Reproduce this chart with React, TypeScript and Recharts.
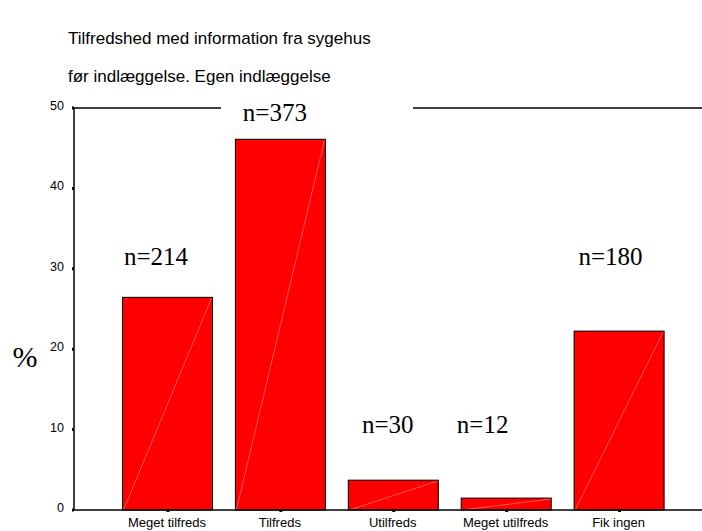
import React from 'react';
import { BarChart, Bar, XAxis, YAxis, ReferenceLine, ReferenceDot } from 'recharts';

const categories = ['Meget tilfreds', 'Tilfreds', 'Utilfreds', 'Meget utilfreds', 'Fik ingen'];
const counts = [214, 373, 30, 12, 180];
const percents = [26.45, 46.11, 3.71, 1.48, 22.25];
const labelLevels = [30.5, 48.4, 9.6, 9.6, 30.5];
const yTicks = [0, 10, 20, 30, 40, 50];
const titleLines = ['Tilfredshed med information fra sygehus', 'før indlæggelse. Egen indlæggelse'];

const labelNudge = [-12, -6, -6, -24, -9];

const data = categories.map((c, i) => ({ category: c, pct: percents[i], n: counts[i] }));

const SANS = '"Liberation Sans", Arial, Helvetica, sans-serif';
const SERIF = '"Liberation Serif", "Times New Roman", Times, serif';

const BarShape = (props: any) => {
  const { x, y, width, height } = props;
  if (!height || height <= 0) return null;
  return (
    <g>
      <rect x={x} y={y} width={width} height={height} fill="#ff0000" stroke="#000" strokeWidth={1} />
      <line x1={x + 1} y1={y + height} x2={x + width - 1} y2={y + 1} stroke="#ff7a7a" strokeWidth={0.7} />
    </g>
  );
};

const TopFrame = (props: any) => {
  const { x1, y1, x2 } = props;
  if (x1 === undefined) return null;
  return (
    <g>
      <line x1={x1} y1={y1} x2={x1 + 147} y2={y1} stroke="#000" strokeWidth={1.5} />
      <line x1={x1 + 339} y1={y1} x2={x2} y2={y1} stroke="#000" strokeWidth={1.5} />
    </g>
  );
};

const YTick = (props: any) => {
  const { x, y, payload } = props;
  return (
    <text x={x} y={y + 2} textAnchor="end" fontFamily={SANS} fontSize={12.5} fill="#000">
      {payload.value}
    </text>
  );
};

const XTick = (props: any) => {
  const { x, y, payload } = props;
  return (
    <text x={x - 1} y={y + 13} textAnchor="middle" fontFamily={SANS} fontSize={13} fill="#000">
      {payload.value}
    </text>
  );
};

const makeNLabel = (i: number) => (props: any) => {
  const vb = props.viewBox || {};
  const cx = (vb.x ?? 0) + (vb.width ?? 0) / 2;
  const cy = (vb.y ?? 0) + (vb.height ?? 0) / 2;
  return (
    <text x={cx + labelNudge[i]} y={cy} textAnchor="middle" fontFamily={SERIF} fontSize={25} fill="#000">
      {`n=${counts[i]}`}
    </text>
  );
};

const PercentLabel = (props: any) => {
  const vb = props.viewBox || {};
  return (
    <text x={(vb.x ?? 0) + 25} y={367} textAnchor="middle" fontFamily={SERIF} fontSize={30} fill="#000">
      %
    </text>
  );
};

export default function App() {
  return (
    <div style={{ position: 'absolute', left: 0, top: 0, width: 702, height: 531, background: '#fff' }}>
      <svg width={702} height={108} style={{ position: 'absolute', left: 0, top: 0 }}>
        <text x={68} y={44} fontFamily={SANS} fontSize={17} fill="#000">{titleLines[0]}</text>
        <text x={68} y={82} fontFamily={SANS} fontSize={17} fill="#000">{titleLines[1]}</text>
      </svg>
      <div style={{ position: 'absolute', left: 0, top: 0 }}>
        <BarChart width={702} height={531} data={data} margin={{ top: 108, right: 0, bottom: 0, left: 0 }} barSize={90}>
          <XAxis
            dataKey="category"
            height={21}
            padding={{ left: 37.5, right: 26 }}
            axisLine={{ stroke: '#000', strokeWidth: 1.5 }}
            tickLine={{ stroke: '#000', strokeWidth: 3 }}
            tickSize={2}
            tick={<XTick />}
            interval={0}
          />
          <YAxis
            width={74}
            domain={[0, 50]}
            ticks={yTicks}
            interval={0}
            axisLine={{ stroke: '#000', strokeWidth: 1.5 }}
            tickLine={{ stroke: '#000', strokeWidth: 3 }}
            tickSize={2}
            tickMargin={8}
            tick={<YTick />}
            label={<PercentLabel />}
          />
          <ReferenceLine y={50} shape={<TopFrame />} />
          <Bar dataKey="pct" isAnimationActive={false} shape={<BarShape />} />
          {categories.map((c, i) => (
            <ReferenceDot
              key={c}
              x={c}
              y={labelLevels[i]}
              r={1}
              fill="none"
              stroke="none"
              label={makeNLabel(i)}
            />
          ))}
        </BarChart>
      </div>
    </div>
  );
}
